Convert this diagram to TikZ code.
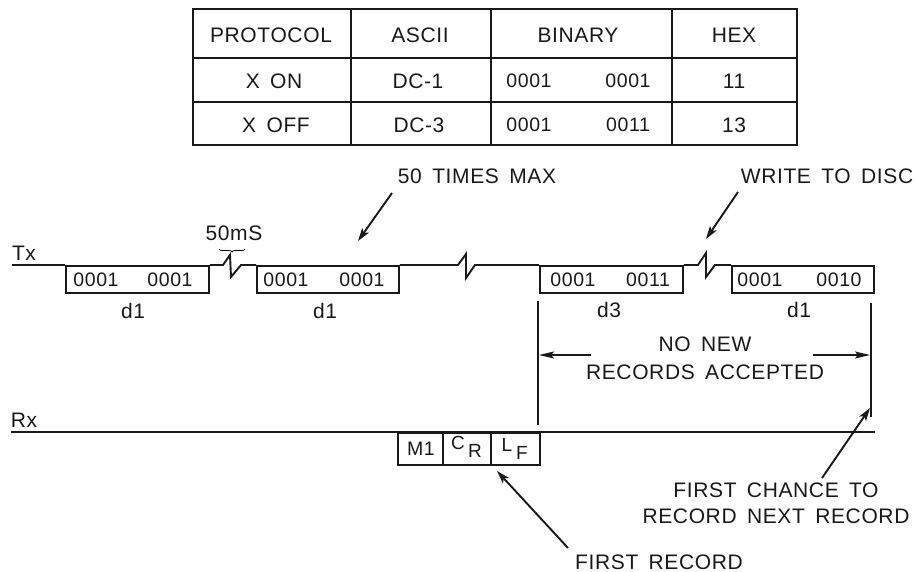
\documentclass[tikz,border=0pt]{standalone}
\usepackage{fontspec}
\setmainfont[LetterSpace=3,WordSpace=1.6]{Liberation Sans}
\usetikzlibrary{arrows.meta,decorations.pathreplacing}
\tikzset{
  ln/.style={line width=1.9pt,draw=black!90},
  cell/.style={ln,rectangle,inner sep=0pt,anchor=north west,text=black!90},
  lab/.style={inner sep=0pt,text=black!90,font=\fontsize{21}{26}\selectfont,align=center},
  dat/.style={inner sep=0pt,text=black!90,font=\fontsize{19.5}{22}\selectfont},
  sub/.style={inner sep=0pt,text=black!90,font=\fontsize{19}{22}\selectfont},
  pointer/.style={ln,-{Stealth[length=13pt,width=8pt,inset=3pt]}},
  dim/.style={ln,-{Stealth[length=15pt,width=7pt,inset=3pt]}}
}
\begin{document}
\begin{tikzpicture}[x=1pt,y=-1pt]
\useasboundingbox (0,0) rectangle (917,572);
% table
\foreach \n/\x/\w in {a/192/158,b/350/140,c/490/181,d/671/125}{
  \node[cell,minimum width=\w pt,minimum height=49pt] (\n1) at (\x,8) {};
  \node[cell,minimum width=\w pt,minimum height=44pt] (\n2) at (\x,57) {};
  \node[cell,minimum width=\w pt,minimum height=43pt] (\n3) at (\x,101) {};
}
\node[lab] (t1) at (271,35) {PROTOCOL};
\node[lab] (t2) at (420,35) {ASCII};
\node[lab] (t3) at (578,35) {BINARY};
\node[lab] (t4) at (734,35) {HEX};
\node[lab] (t5) at (274,81) {X ON};
\node[lab] (t6) at (418,81) {DC-1};
\node[dat] (t7) at (529,81) {0001};
\node[dat] (t8) at (628,81) {0001};
\node[lab] (t9) at (734,81) {11};
\node[lab] (t10) at (276,125) {X OFF};
\node[lab] (t11) at (419,125) {DC-3};
\node[dat] (t12) at (529,125) {0001};
\node[dat] (t13) at (628,125) {0011};
\node[lab] (t14) at (734,125) {13};
% Tx boxes
\foreach \n/\x/\w in {b1/65/143,b2/256/142,b3/539/143,b4/731/142}{
  \node[cell,minimum width=\w pt,minimum height=27pt] (\n) at (\x,265) {};
}
\node[dat] at (96,280) {0001};
\node[dat] at (170,280) {0001};
\node[dat] at (286,280) {0001};
\node[dat] at (362,280) {0001};
\node[dat] at (573,280) {0001};
\node[dat] at (648,280) {0011};
\node[dat] at (760,280) {0001};
\node[dat] at (839,280) {0010};
\node[lab] (d1) at (133,311) {d1};
\node[lab] (d2) at (325,311) {d1};
\node[lab] (d3) at (609,310) {d3};
\node[lab] (d4) at (799,310) {d1};
\node[lab] (tx) at (24,253) {Tx};
\node[lab] (rx) at (24,420) {Rx};
\node[lab] (ms) at (234,233) {50mS};
% Tx line
\coordinate (txs) at (12,265);
\draw[ln,line join=miter] (txs) -- (b1.north west) (b1.north east)
  -- (223,265) -- (230,255) -- (231,277) -- (241,265) -- (b2.north west)
  (b2.north east) -- (458,265) -- (466,254) -- (466,278) -- (475,265) -- (b3.north west)
  (b3.north east) -- (698,265) -- (706,253) -- (706,277) -- (715,265) -- (b4.north west);
% brace
\coordinate (bl) at (219,249);
\coordinate (br) at (245,249);
\draw[line width=0.8pt,decorate,decoration={brace,amplitude=3pt,mirror,aspect=0.5}] (bl) -- (br);
% Rx
\coordinate (rxs) at (11,432);
\coordinate (rxe) at (875,432);
\draw[ln] (rxs) -- (rxe);
\foreach \n/\x/\w in {m/397/45,c/442/48,l/490/49}{
  \node[cell,minimum width=\w pt,minimum height=32pt] (\n) at (\x,432) {};
}
\node[dat] at (421,449) {M1};
\node[sub] at (458,443) {C};
\node[sub] at (475,451) {R};
\node[sub] at (507,445) {L};
\node[sub] at (522,453) {F};
% bounds
\coordinate (v1a) at (538,301); \coordinate (v1b) at (538,425);
\coordinate (v2a) at (871,303); \coordinate (v2b) at (871,417);
\draw[ln] (v1a) -- (v1b);
\draw[ln] (v2a) -- (v2b);
\node[lab] (nn) at (705,344) {NO NEW};
\node[lab] (ra) at (705,372) {RECORDS ACCEPTED};
\coordinate (h1a) at (591,355); \coordinate (h1b) at (539,355);
\coordinate (h2a) at (813,355); \coordinate (h2b) at (870,355);
\draw[dim] (h1a) -- (h1b);
\draw[dim] (h2a) -- (h2b);
% callouts
\node[lab] (tm) at (477,176) {50 TIMES MAX};
\node[lab] (wd) at (827,176) {WRITE TO DISC};
\node[lab] (fc) at (776,503) {FIRST CHANCE TO\\RECORD NEXT RECORD};
\node[lab] (fr) at (659,562) {FIRST RECORD};
\coordinate (p1a) at (392,193); \coordinate (p1b) at (358,241);
\coordinate (p2a) at (738,192); \coordinate (p2b) at (706,239);
\coordinate (p3a) at (568,548); \coordinate (p3b) at (497,471);
\coordinate (p4a) at (822,478); \coordinate (p4b) at (870,408);
\draw[pointer] (p1a) -- (p1b);
\draw[pointer] (p2a) -- (p2b);
\draw[pointer] (p3a) -- (p3b);
\draw[pointer] (p4a) -- (p4b);
\end{tikzpicture}
\end{document}
